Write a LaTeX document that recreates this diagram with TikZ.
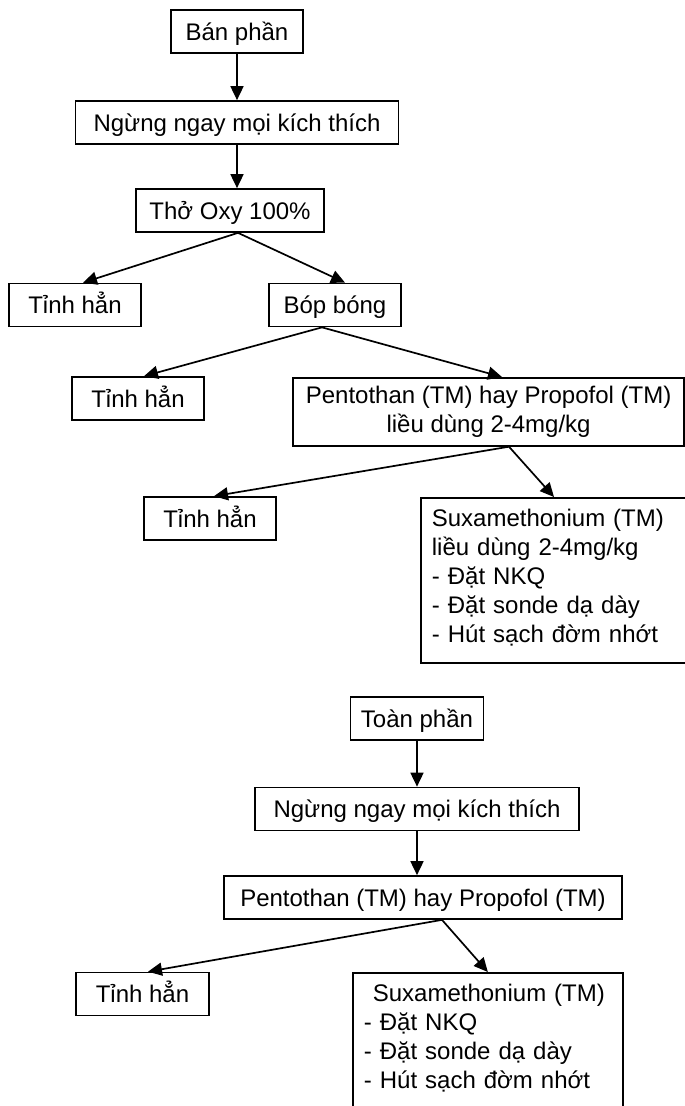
\documentclass[tikz,border=0pt]{standalone}
\usepackage{fontspec}
\setmainfont{Liberation Sans}
\usetikzlibrary{arrows.meta}

\begin{document}
\begin{tikzpicture}[x=1pt,y=-1pt,
  box/.style={draw,line width=1.7pt,inner sep=0pt,
    font=\fontsize{24}{29}\selectfont},
  cell/.style={box,minimum height=43pt,text height=21pt,text depth=4pt},
  tallbox/.style={box,anchor=north west,align=left,inner xsep=11pt,
    inner ysep=9pt,text height=20pt},
  arr/.style={line width=1.7pt,-{Triangle[length=14pt,width=13pt]}}]

\useasboundingbox (0,0) rectangle (685,1106);
\clip (0,0) rectangle (685,1106);

% ban phan
\node[cell,minimum width=132pt] (ban) at (237,31.5) {Bán phần};
\node[cell,minimum width=323pt] (ngung1) at (237,122.5) {Ngừng ngay mọi kích thích};
\node[cell,minimum width=188pt] (oxy) at (230,210.5) {Thở Oxy 100\%};

\node[cell,minimum width=132pt] (tinh1) at (75,305) {Tỉnh hẳn};
\node[cell,minimum width=132pt] (bop) at (335,305) {Bóp bóng};

\node[cell,minimum width=132pt] (tinh2) at (138,398.5) {Tỉnh hẳn};
\node[box,anchor=north west,minimum height=68pt,inner xsep=13pt] (pent1) at (292,377)
  {\begin{tabular}{@{}c@{}}Pentothan (TM) hay Propofol (TM)\\liều dùng 2-4mg/kg\end{tabular}\hspace{40pt}};

\node[cell,minimum width=132pt] (tinh3) at (210,518.5) {Tỉnh hẳn};
\node[tallbox,text width=280pt,text depth=127pt] (suxa1) at (420,497)
  {Suxamethonium (TM)\\liều dùng 2-4mg/kg\\- Đặt NKQ\\- Đặt sonde dạ dày\\- Hút sạch đờm nhớt};

\draw[arr] (ban.south) -- (ban.south |- ngung1.north);
\draw[arr] (ngung1.south) -- (ngung1.south |- oxy.north);
\draw[arr] ([xshift=8pt]oxy.south) -- ([xshift=8pt]tinh1.north);
\draw[arr] ([xshift=8pt]oxy.south) -- ([xshift=10pt]bop.north);
\draw[arr] ([xshift=-13pt]bop.south) -- ([xshift=6pt]tinh2.north);
\draw[arr] ([xshift=-13pt]bop.south) -- ([xshift=210pt]pent1.north west);
\draw[arr] ([xshift=217pt]pent1.south west) -- ([xshift=4pt]tinh3.north);
\draw[arr] ([xshift=217pt]pent1.south west) -- ([xshift=134pt]suxa1.north west);

% toan phan
\node[cell,minimum width=133pt] (toan) at (417,718.5) {Toàn phần};
\node[cell,minimum width=324pt] (ngung2) at (417,809) {Ngừng ngay mọi kích thích};
\node[cell,minimum width=398pt] (pent2) at (423,897.5) {Pentothan (TM) hay Propofol (TM)};

\node[cell,minimum width=133pt] (tinh4) at (142.5,994) {Tỉnh hẳn};
\node[tallbox,text width=248pt,text depth=150pt] (suxa2) at (352,972)
  {\hspace*{9pt}Suxamethonium (TM)\\- Đặt NKQ\\- Đặt sonde dạ dày\\- Hút sạch đờm nhớt};

\draw[arr] (toan.south) -- (toan.south |- ngung2.north);
\draw[arr] (ngung2.south) -- (ngung2.south |- pent2.north);
\draw[arr] ([xshift=19pt]pent2.south) -- ([xshift=5.5pt]tinh4.north);
\draw[arr] ([xshift=19pt]pent2.south) -- (suxa2.north);

\end{tikzpicture}
\end{document}
